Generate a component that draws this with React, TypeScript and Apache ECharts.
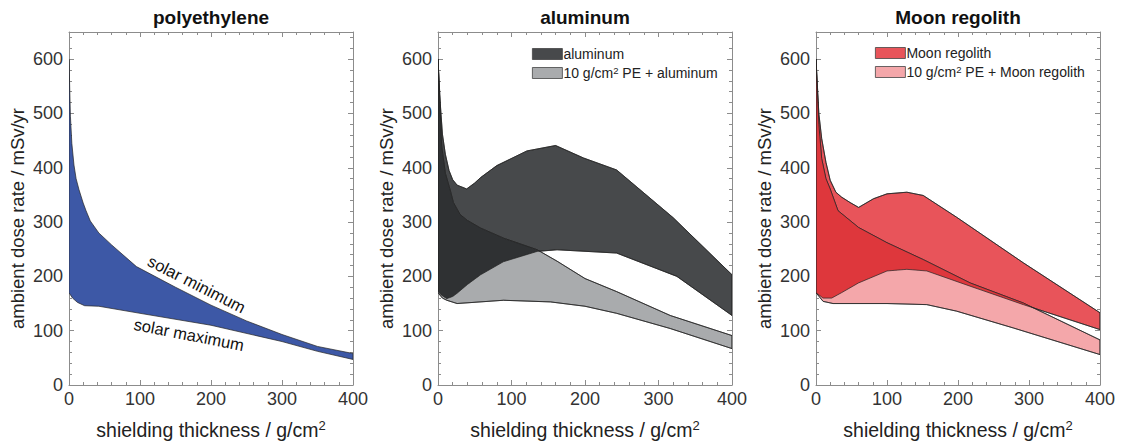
import React, { useEffect, useRef } from 'react';
import * as echarts from 'echarts';

type Pt = [number, number];

const FONT = '"Liberation Sans", Arial, Helvetica, sans-serif';

const panelTitles = ['polyethylene', 'aluminum', 'Moon regolith'];
const xAxisTitle = 'shielding thickness / g/cm{sup|2}';
const yAxisTitle = 'ambient dose rate / mSv/yr';
const xMin = 0, xMax = 400, xStep = 100;
const yMin = 0, yMax = 650, yStep = 100;

// polyethylene
const peSolarMin: Pt[] = [[0, 600], [2, 495], [4, 445], [7, 405], [10, 380], [14, 360], [20, 335], [24, 321], [30, 302], [42, 280], [60, 258], [95, 218], [150, 180], [200, 147], [250, 118], [300, 93], [350, 71], [400, 58]];
const peSolarMax: Pt[] = [[0, 170], [5, 160], [12, 152], [22, 146], [42, 145], [100, 132], [200, 110], [300, 80], [350, 62], [400, 47]];

// aluminum
const alSolarMin: Pt[] = [[0, 600], [3, 520], [6, 462], [10, 425], [15, 395], [20, 378], [26, 368], [39, 361], [50, 372], [58, 382], [80, 404], [121, 431], [160, 441], [198, 418], [243, 396], [320, 308], [400, 203]];
const alSolarMax: Pt[] = [[0, 172], [5, 165], [12, 159], [20, 163], [26, 169], [40, 185], [58, 203], [89, 227], [135, 246], [162, 249], [243, 243], [325, 200], [400, 128]];
const peAlSolarMin: Pt[] = [[0, 600], [5, 440], [10, 390], [17, 357], [21, 336], [30, 314], [40, 303], [58, 289], [90, 270], [135, 249], [162, 228], [200, 196], [243, 172], [316, 128], [400, 91]];
const peAlSolarMax: Pt[] = [[0, 170], [6, 160], [12, 156], [26, 150], [89, 156], [153, 153], [200, 145], [243, 132], [316, 104], [400, 67]];

// Moon regolith
const mrSolarMin: Pt[] = [[0, 600], [4, 500], [8, 454], [14, 410], [20, 377], [28, 355], [36, 346], [48, 336], [60, 327], [81, 343], [100, 352], [128, 355], [151, 349], [198, 309], [292, 225], [400, 133]];
const mrSolarMax: Pt[] = [[0, 170], [10, 160], [22, 160], [36, 170], [60, 188], [100, 210], [128, 213], [156, 210], [217, 182], [292, 148], [400, 102]];
const peMrSolarMin: Pt[] = [[0, 600], [4, 480], [8, 417], [14, 380], [20, 361], [31, 321], [60, 290], [100, 262], [151, 231], [217, 188], [292, 151], [400, 83]];
const peMrSolarMax: Pt[] = [[0, 170], [10, 154], [24, 150], [100, 150], [156, 148], [198, 136], [278, 105], [400, 56]];

const peNotes = [
  { text: 'solar minimum', x: 180, y: 186, angle: 27 },
  { text: 'solar maximum', x: 169, y: 93, angle: 11 },
];

const BLUE = '#3d58a6';
const DARK = '#47494b';
const GRAY = '#a9abad';
const RED = '#e8545a';
const PINK = '#f4a7aa';
const EDGE = '#222222';

function hexToRgb(h: string) {
  const n = parseInt(h.slice(1), 16);
  return [(n >> 16) & 255, (n >> 8) & 255, n & 255];
}
function multiply(a: string, b: string) {
  const ca = hexToRgb(a), cb = hexToRgb(b);
  const c = ca.map((v, i) => Math.round((v * cb[i]) / 255));
  return 'rgb(' + c.join(',') + ')';
}

function interp(pts: Pt[], x: number) {
  if (x <= pts[0][0]) return pts[0][1];
  for (let i = 1; i < pts.length; i++) {
    if (x <= pts[i][0]) {
      const [x0, y0] = pts[i - 1];
      const [x1, y1] = pts[i];
      return y0 + ((y1 - y0) * (x - x0)) / (x1 - x0);
    }
  }
  return pts[pts.length - 1][1];
}

function bandPixels(api: any, upper: Pt[], lower: Pt[]) {
  const out = upper.map((p) => api.coord(p));
  for (let i = lower.length - 1; i >= 0; i--) out.push(api.coord(lower[i]));
  return out;
}

function overlapPixels(api: any, aU: Pt[], aL: Pt[], bU: Pt[], bL: Pt[]) {
  const xs = new Set<number>();
  for (let x = xMin; x <= xMax; x += 0.5) xs.add(x);
  [aU, aL, bU, bL].forEach((arr) => arr.forEach((p) => xs.add(p[0])));
  const sorted = Array.from(xs).sort((a, b) => a - b);
  const top: number[][] = [];
  const bot: number[][] = [];
  sorted.forEach((x) => {
    const t = Math.min(interp(aU, x), interp(bU, x));
    const b = Math.max(interp(aL, x), interp(bL, x));
    top.push(api.coord([x, Math.max(t, b)]));
    bot.push(api.coord([x, b]));
  });
  return top.concat(bot.reverse());
}

function bandSeries(name: string | undefined, idx: number, upper: Pt[], lower: Pt[], color: string, z = 2) {
  return {
    type: 'custom',
    name,
    xAxisIndex: idx * 2,
    yAxisIndex: idx * 2,
    data: [[0, 0]],
    silent: true,
    clip: true,
    z,
    itemStyle: { color, borderColor: '#333', borderWidth: 0.8 },
    renderItem: (_p: any, api: any) => ({
      type: 'polygon',
      shape: { points: bandPixels(api, upper, lower) },
      style: { fill: color, stroke: EDGE, lineWidth: 0.7 },
    }),
  };
}

function overlapSeries(idx: number, aU: Pt[], aL: Pt[], bU: Pt[], bL: Pt[], color: string) {
  return {
    type: 'custom',
    xAxisIndex: idx * 2,
    yAxisIndex: idx * 2,
    data: [[0, 0]],
    silent: true,
    clip: true,
    z: 3,
    renderItem: (_p: any, api: any) => ({
      type: 'group',
      children: [
        { type: 'polygon', shape: { points: overlapPixels(api, aU, aL, bU, bL) }, style: { fill: color } },
        { type: 'polygon', shape: { points: bandPixels(api, aU, aL) }, style: { fill: 'none', stroke: EDGE, lineWidth: 0.7 } },
        { type: 'polygon', shape: { points: bandPixels(api, bU, bL) }, style: { fill: 'none', stroke: EDGE, lineWidth: 0.7 } },
      ],
    }),
  };
}

function notesSeries() {
  return {
    type: 'custom',
    xAxisIndex: 0,
    yAxisIndex: 0,
    data: [[0, 0]],
    silent: true,
    z: 4,
    renderItem: (_p: any, api: any) => ({
      type: 'group',
      children: peNotes.map((n) => {
        const c = api.coord([n.x, n.y]);
        return {
          type: 'text',
          x: c[0],
          y: c[1],
          rotation: (-n.angle * Math.PI) / 180,
          style: { text: n.text, fontSize: 16.5, fontFamily: FONT, fill: '#111', align: 'center', verticalAlign: 'middle' },
        };
      }),
    }),
  };
}

const grids = [
  { left: 69, top: 32, width: 284, height: 353 },
  { left: 438, top: 32, width: 294, height: 353 },
  { left: 816, top: 32, width: 284, height: 353 },
];

const lineStyle = { color: '#8c8c8c', width: 1 };

function xAxes(i: number) {
  const common = {
    type: 'value', gridIndex: i, min: xMin, max: xMax, interval: xStep,
    axisLine: { show: true, onZero: false, lineStyle },
    axisTick: { show: true, inside: true, length: 5, lineStyle },
    minorTick: { show: true, splitNumber: 5, length: 3, lineStyle },
    splitLine: { show: false }, minorSplitLine: { show: false },
  };
  return [
    {
      ...common, position: 'bottom',
      axisLabel: { show: true, fontSize: 18, color: '#333', fontFamily: FONT, margin: 5 },
      name: xAxisTitle, nameLocation: 'middle', nameGap: 34,
      nameTextStyle: { fontSize: 19.5, color: '#222', fontFamily: FONT, lineHeight: 22, rich: { sup: { fontSize: 13, lineHeight: 13, verticalAlign: 'top', fontFamily: FONT, color: '#222' } } },
    },
    {
      ...common, position: 'top', axisLabel: { show: false },
      name: panelTitles[i], nameLocation: 'middle', nameGap: 5,
      nameTextStyle: { fontSize: 19, fontWeight: 'bold', color: '#111', fontFamily: FONT },
    },
  ];
}

function yAxes(i: number) {
  const common = {
    type: 'value', gridIndex: i, min: yMin, max: yMax, interval: yStep,
    axisLine: { show: true, onZero: false, lineStyle },
    axisTick: { show: true, inside: true, length: 5, lineStyle },
    minorTick: { show: true, splitNumber: 5, length: 3, lineStyle },
    splitLine: { show: false }, minorSplitLine: { show: false },
  };
  return [
    {
      ...common, position: 'left',
      axisLabel: { show: true, fontSize: 18, color: '#333', fontFamily: FONT, margin: 6, showMaxLabel: false },
      name: yAxisTitle, nameLocation: 'middle', nameGap: 42,
      nameTextStyle: { fontSize: 18.5, color: '#222', fontFamily: FONT, padding: [0, 20, 0, 0] },
    },
    { ...common, position: 'right', axisLabel: { show: false } },
  ];
}

function legend(left: number, top: number, items: { name: string; color: string }[]) {
  return {
    left, top, orient: 'vertical', itemWidth: 30, itemHeight: 11, itemGap: 3,
    selectedMode: false, padding: 0,
    data: items.map((it) => ({ name: it.name, icon: 'rect', itemStyle: { color: it.color, borderColor: '#444', borderWidth: 0.8 } })),
    formatter: (n: string) => n.replace('cm2', 'cm{sup|2}'),
    textStyle: {
      fontSize: 14, color: '#222', fontFamily: FONT, lineHeight: 16, padding: [0, 0, 0, -4],
      rich: { sup: { fontSize: 9.5, lineHeight: 9, verticalAlign: 'top', color: '#222', fontFamily: FONT } },
    },
  };
}

function buildOption() {
  const alName = 'aluminum';
  const peAlName = '10 g/cm2 PE + aluminum';
  const mrName = 'Moon regolith';
  const peMrName = '10 g/cm2 PE + Moon regolith';
  return {
    animation: false,
    backgroundColor: '#fff',
    textStyle: { fontFamily: FONT },
    grid: grids.map((g) => ({ ...g, containLabel: false, outerBoundsMode: 'none' })),
    xAxis: [0, 1, 2].flatMap((i) => xAxes(i)),
    yAxis: [0, 1, 2].flatMap((i) => yAxes(i)),
    legend: [
      legend(532, 46, [{ name: alName, color: DARK }, { name: peAlName, color: GRAY }]),
      legend(875, 45, [{ name: mrName, color: RED }, { name: peMrName, color: PINK }]),
    ],
    series: [
      bandSeries(undefined, 0, peSolarMin, peSolarMax, BLUE),
      notesSeries(),
      bandSeries(alName, 1, alSolarMin, alSolarMax, DARK),
      bandSeries(peAlName, 1, peAlSolarMin, peAlSolarMax, GRAY),
      overlapSeries(1, alSolarMin, alSolarMax, peAlSolarMin, peAlSolarMax, multiply(DARK, GRAY)),
      bandSeries(mrName, 2, mrSolarMin, mrSolarMax, RED),
      bandSeries(peMrName, 2, peMrSolarMin, peMrSolarMax, PINK),
      overlapSeries(2, mrSolarMin, mrSolarMax, peMrSolarMin, peMrSolarMax, multiply(RED, PINK)),
    ],
  };
}

export default function App() {
  const ref = useRef<HTMLDivElement>(null);
  useEffect(() => {
    const chart = echarts.init(ref.current as HTMLDivElement, null, { renderer: 'svg' });
    chart.setOption(buildOption() as any);
    return () => chart.dispose();
  }, []);
  return <div ref={ref} style={{ position: 'fixed', left: 0, top: 0, width: 1122, height: 445, background: '#fff' }} />;
}
